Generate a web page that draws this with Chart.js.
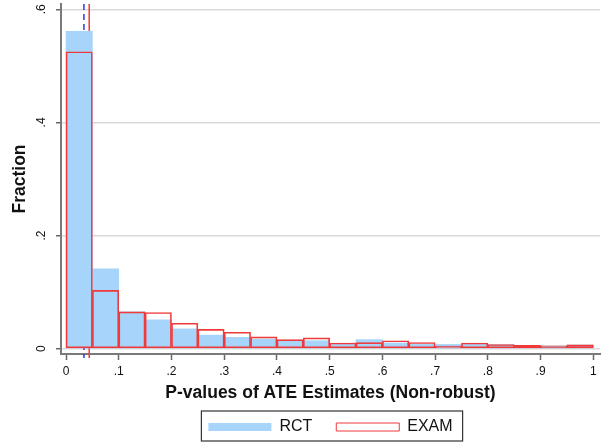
<!DOCTYPE html>
<html>
<head>
<meta charset="utf-8">
<script src="https://cdn.jsdelivr.net/npm/chart.js@4.4.0/dist/chart.umd.min.js"></script>
<style>
    body { margin: 0; background: #ffffff; }
    #wrap { width: 605px; height: 445px; }
</style>
</head>
<body>
<div id="wrap"><canvas id="pvalChart" width="605" height="445"></canvas></div>
<script>
// ---------------- DATA ----------------
const binCenters = [0.025, 0.075, 0.125, 0.175, 0.225, 0.275, 0.325, 0.375, 0.425, 0.475,
                    0.525, 0.575, 0.625, 0.675, 0.725, 0.775, 0.825, 0.875, 0.925, 0.975];
const rctFraction = [0.561, 0.141, 0.065, 0.051, 0.035, 0.024, 0.020, 0.017, 0.014, 0.014,
                     0.009, 0.016, 0.010, 0.008, 0.0075, 0.0085, 0.007, 0.0055, 0.0048, 0.0065];
const examFraction = [0.525, 0.103, 0.065, 0.064, 0.045, 0.034, 0.029, 0.021, 0.016, 0.019,
                      0.010, 0.0106, 0.014, 0.011, 0.0044, 0.010, 0.0074, 0.006, 0.005, 0.0067];
const rctMean = 0.034;
const examMean = 0.044;
const xTicks = [0, 0.1, 0.2, 0.3, 0.4, 0.5, 0.6, 0.7, 0.8, 0.9, 1];
const yTicks = [0, 0.2, 0.4, 0.6];

const FONT = "'Liberation Sans', Arial, Helvetica, sans-serif";
const BLUE = "#a6d4fa";
const RED = "#f03a3a";

function stataLabel(v) {
    if (Math.abs(v) < 1e-9) return "0";
    if (Math.abs(v - 1) < 1e-9) return "1";
    return v.toFixed(1).replace(/^0/, "");
}

// ---------------- PLUGINS ----------------
const meanLinesPlugin = {
    id: "meanLines",
    beforeDatasetsDraw(chart) {
        const ctx = chart.ctx;
        const x = chart.scales.x;
        const area = chart.chartArea;
        ctx.save();
        ctx.lineWidth = 1.5;
        // RCT mean, dashed blue
        ctx.strokeStyle = "#2a3ae0";
        ctx.setLineDash([6, 4]);
        ctx.beginPath();
        ctx.moveTo(x.getPixelForValue(rctMean), area.top);
        ctx.lineTo(x.getPixelForValue(rctMean), area.bottom + 4);
        ctx.stroke();
        // EXAM mean, solid red
        ctx.strokeStyle = RED;
        ctx.setLineDash([]);
        ctx.beginPath();
        ctx.moveTo(x.getPixelForValue(examMean), area.top);
        ctx.lineTo(x.getPixelForValue(examMean), area.bottom + 4);
        ctx.stroke();
        ctx.restore();
    }
};

const yLabelsAndLegendBox = {
    id: "yLabelsAndLegendBox",
    afterDraw(chart) {
        const ctx = chart.ctx;
        const y = chart.scales.y;
        ctx.save();
        ctx.fillStyle = "#111";
        ctx.font = "12px " + FONT;
        ctx.textAlign = "center";
        ctx.textBaseline = "middle";
        yTicks.forEach(v => {
            ctx.save();
            ctx.translate(42, y.getPixelForValue(v));
            ctx.rotate(-Math.PI / 2);
            ctx.fillText(stataLabel(v), 0, 0);
            ctx.restore();
        });

        // box round the legend
        const boxes = chart.legend.legendHitBoxes;
        if (boxes && boxes.length) {
            let left = Infinity, right = -Infinity, top = Infinity;
            boxes.forEach(b => {
                left = Math.min(left, b.left);
                right = Math.max(right, b.left + b.width);
                top = Math.min(top, b.top);
            });
            ctx.strokeStyle = "#333";
            ctx.lineWidth = 1.2;
            ctx.strokeRect(left - 7, top - 8, right - left + 17, 30);
        }
        ctx.restore();
    }
};

// ---------------- CHART ----------------
const ctx = document.getElementById("pvalChart").getContext("2d");

new Chart(ctx, {
    type: "bar",
    data: {
        datasets: [{
            label: "RCT",
            data: binCenters.map((c, i) => ({ x: c, y: rctFraction[i] })),
            backgroundColor: BLUE,
            borderColor: BLUE,
            borderWidth: 0,
            order: 2
        }, {
            label: "EXAM",
            data: binCenters.map((c, i) => ({ x: c, y: examFraction[i] })),
            backgroundColor: "rgba(255,255,255,0)",
            borderColor: RED,
            borderWidth: 1,
            borderSkipped: false,
            order: 1
        }]
    },
    options: {
        responsive: false,
        animation: false,
        grouped: false,
        barPercentage: 1,
        categoryPercentage: 1,
        layout: { padding: { top: 4, right: 5, left: 0, bottom: 0 } },
        plugins: {
            tooltip: { enabled: false },
            legend: {
                position: "bottom",
                fullSize: false,
                reverse: true,
                labels: {
                    boxWidth: 63,
                    boxHeight: 8,
                    padding: 24,
                    color: "#111",
                    font: { family: FONT, size: 16 }
                }
            }
        },
        scales: {
            x: {
                type: "linear",
                offset: false,
                min: -0.0095,
                max: 1.0127,
                afterBuildTicks: s => { s.ticks = xTicks.map(v => ({ value: v })); },
                afterFit: s => { s.height = 41; },
                grid: {
                    offset: false,
                    drawOnChartArea: false,
                    drawTicks: true,
                    tickLength: 6,
                    tickColor: "#666",
                    tickWidth: 1.5
                },
                border: { display: true, color: "#7a7a7a", width: 2 },
                ticks: {
                    autoSkip: false,
                    maxRotation: 0,
                    padding: 4,
                    color: "#111",
                    font: { family: FONT, size: 12 },
                    callback: v => stataLabel(v)
                },
                title: {
                    display: true,
                    text: "P-values of ATE Estimates (Non-robust)",
                    color: "#111",
                    font: { family: FONT, size: 17.5, weight: "bold" },
                    padding: { top: 0, bottom: -8.5 }
                }
            },
            y: {
                type: "linear",
                min: -0.0094,
                max: 0.6094,
                afterBuildTicks: s => { s.ticks = yTicks.map(v => ({ value: v })); },
                afterFit: s => { s.width = 61; },
                grid: {
                    color: "#d9d9d9",
                    lineWidth: 1.5,
                    drawTicks: true,
                    tickLength: 5,
                    tickColor: "#666",
                    tickWidth: 1.5
                },
                border: { display: true, color: "#7a7a7a", width: 2 },
                ticks: { display: false },
                title: {
                    display: true,
                    text: "Fraction",
                    color: "#111",
                    font: { family: FONT, size: 17.5, weight: "bold" },
                    padding: { top: 9.5, bottom: 0 }
                }
            }
        }
    },
    plugins: [meanLinesPlugin, yLabelsAndLegendBox]
});
</script>
</body>
</html>
